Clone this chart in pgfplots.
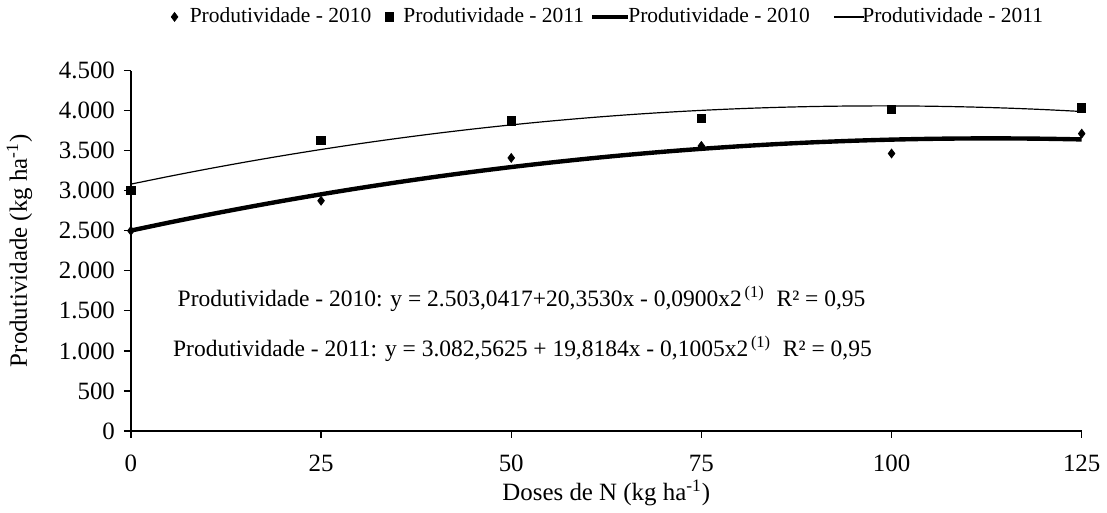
\documentclass[border=0pt]{standalone}
\usepackage{pgfplots}
\pgfplotsset{compat=1.18}
\usepackage{fontspec}
\setmainfont{Liberation Serif}
\begin{document}
\begin{tikzpicture}
\begin{axis}[
  scale only axis,
  width=477.5pt, height=181pt,
  xmin=0, xmax=125, ymin=0, ymax=4500,
  axis lines=left,
  axis line style={-, line width=0.6pt},
  xtick={0,25,50,75,100,125},
  ytick={0,500,1000,1500,2000,2500,3000,3500,4000,4500},
  tick align=outside,
  major tick length=3.5pt,
  tick style={black, line width=0.6pt},
  /pgf/number format/.cd, use comma, 1000 sep={.}, assume math mode=true,
  /pgfplots/.cd,
  tick label style={font=\fontsize{12.5}{14}\selectfont},
  yticklabel style={xshift=-1pt},
  xticklabel style={yshift=-5pt},
  xlabel={Doses de N (kg ha\textsuperscript{-1})},
  ylabel={Produtividade (kg ha\textsuperscript{-1})},
  label style={font=\fontsize{12.5}{14}\selectfont},
  xlabel style={at={(0.5,0)}, anchor=center, yshift=-31pt},
  ylabel style={at={(0,0.5)}, anchor=center, yshift=56pt},
  clip=false,
  legend columns=4,
  legend style={draw=none, fill=none, at={(0.503,1.149)}, anchor=center,
    font=\fontsize{10.8}{13}\selectfont,
    /tikz/every even column/.append style={column sep=1pt}},
]
\addplot[only marks, mark=diamond*, mark size=2.2pt, black] coordinates {
(0,2500) (25,2875) (50,3410) (75,3560) (100,3465) (125,3713)};
\addlegendentry{\hspace{4pt}Produtividade - 2010}
\addplot[only marks, mark=square*, mark size=2.1pt, black,
  legend image code/.code={\path[draw=none,fill=none] (-6pt,0pt) -- (0pt,0pt); \draw[mark=square*, mark size=2.1pt] plot coordinates {(0pt,0pt)};}] coordinates {
(0,3005) (25,3626) (50,3870) (75,3900) (100,4015) (125,4036)};
\addlegendentry{\hspace{3pt}Produtividade - 2011}
\addplot[black, line width=2.2pt, smooth, no marks,
  legend image code/.code={\draw[line width=2.2pt] (0pt,0pt) -- (18pt,0pt);}] coordinates {
(0,2503.0) (5,2602.6) (10,2697.6) (15,2788.1) (20,2874.1) (25,2955.6)
(30,3032.6) (35,3105.1) (40,3173.2) (45,3236.7) (50,3295.7) (55,3350.2)
(60,3400.2) (65,3445.7) (70,3486.8) (75,3523.3) (80,3555.3) (85,3582.8)
(90,3605.8) (95,3624.3) (100,3638.3) (105,3647.9) (110,3652.9) (115,3653.4)
(120,3649.4) (125,3640.9)};
\addlegendentry{\hspace{-3pt}Produtividade - 2010}
\addplot[black, line width=0.6pt, smooth, no marks,
  legend image code/.code={\path[draw=none,fill=none] (0pt,0pt) -- (9pt,0pt); \draw[line width=0.6pt] (9pt,0pt) -- (24pt,0pt);}] coordinates {
(0,3082.6) (5,3179.1) (10,3270.7) (15,3357.2) (20,3438.7) (25,3515.2)
(30,3586.7) (35,3653.1) (40,3714.5) (45,3770.9) (50,3822.2) (55,3868.6)
(60,3909.9) (65,3946.2) (70,3977.4) (75,4003.6) (80,4024.8) (85,4041.0)
(90,4052.2) (95,4058.3) (100,4059.4) (105,4055.5) (110,4046.5) (115,4032.6)
(120,4013.6) (125,3989.6)};
\addlegendentry{\hspace{-3pt}Produtividade - 2011}
\node[anchor=west, font=\fontsize{11.8}{14}\selectfont, inner sep=0pt] at (axis cs:6.1,1650)
  {Produtividade - 2010: y = 2.503,0417+20,3530x - 0,0900x2\textsuperscript{\,(1)}\ \ R² = 0,95};
\node[anchor=west, font=\fontsize{11.8}{14}\selectfont, inner sep=0pt] at (axis cs:5.5,1030)
  {Produtividade - 2011: y = 3.082,5625 + 19,8184x - 0,1005x2\textsuperscript{\,(1)}\ \ R² = 0,95};
\end{axis}
\end{tikzpicture}
\end{document}
